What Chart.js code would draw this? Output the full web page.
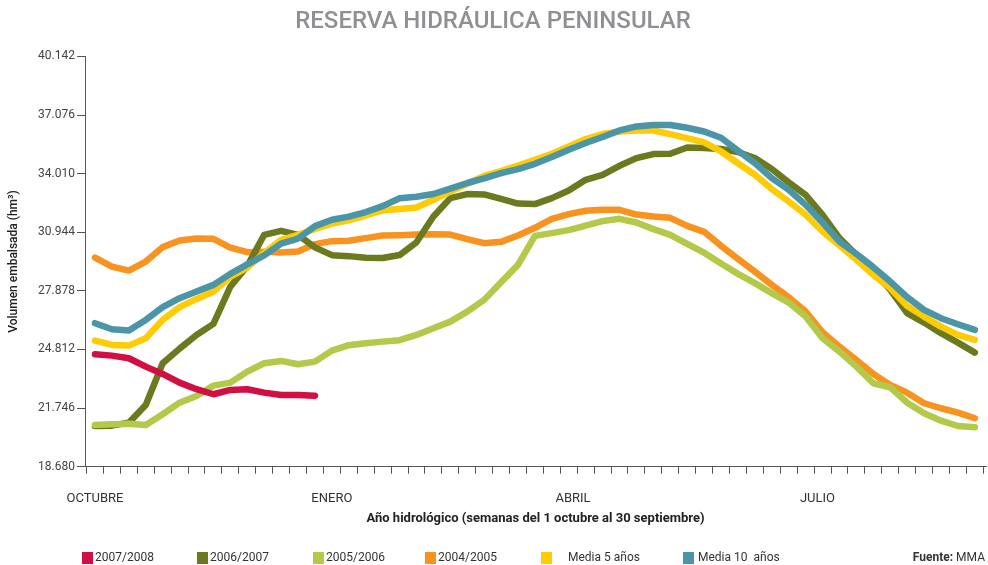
<!DOCTYPE html>
<html>
<head>
<meta charset="utf-8">
<script src="https://cdn.jsdelivr.net/npm/chart.js@4.4.1/dist/chart.umd.min.js"></script>
<style>
  html, body { margin: 0; padding: 0; background: #ffffff; }
  #wrap { position: relative; width: 988px; height: 565px; }
</style>
</head>
<body>
<div id="wrap"><canvas id="c"></canvas></div>
<script>
// ---------- DATA ----------
const weeks = [0,1,2,3,4,5,6,7,8,9,10,11,12,13,14,15,16,17,18,19,20,21,22,23,24,25,26,27,28,29,30,31,32,33,34,35,36,37,38,39,40,41,42,43,44,45,46,47,48,49,50,51,52];

const seriesNames = ['2007/2008', '2006/2007', '2005/2006', '2004/2005', 'Media 5 años', 'Media 10  años'];

const s2007_2008 = [24564, 24490, 24354, 23915, 23532, 23077, 22732, 22470, 22695, 22732, 22554, 22433, 22433, 22397];

const s2006_2007 = [20810, 20826, 20983, 21910, 24093, 24857, 25574, 26150, 28102, 29170, 30809, 31018, 30809, 30154, 29746, 29694, 29605, 29594, 29751, 30416, 31767, 32730, 32939, 32923, 32693, 32447, 32416, 32730, 33127, 33688, 33949, 34420, 34823, 35033, 35049, 35378, 35347, 35295, 35143, 34823, 34250, 33550, 32902, 31856, 30636, 29762, 28887, 27930, 26710, 26218, 25663, 25171, 24647];

const s2005_2006 = [20863, 20899, 20931, 20863, 21423, 22030, 22381, 22920, 23077, 23653, 24093, 24213, 24040, 24176, 24752, 25035, 25140, 25223, 25297, 25574, 25925, 26270, 26794, 27406, 28333, 29238, 30756, 30898, 31055, 31295, 31526, 31646, 31452, 31107, 30809, 30337, 29877, 29311, 28767, 28280, 27757, 27265, 26532, 25401, 24700, 23915, 23046, 22836, 22030, 21475, 21088, 20810, 20742];

const s2004_2005 = [29620, 29149, 28940, 29411, 30165, 30510, 30615, 30599, 30144, 29903, 29919, 29882, 29934, 30322, 30479, 30495, 30636, 30772, 30793, 30824, 30845, 30824, 30584, 30374, 30442, 30772, 31175, 31646, 31892, 32065, 32117, 32117, 31871, 31767, 31698, 31280, 30966, 30233, 29552, 28887, 28191, 27547, 26794, 25715, 24962, 24265, 23532, 22957, 22554, 21999, 21737, 21507, 21214];

const media5 = [25276, 25051, 25014, 25401, 26359, 27024, 27458, 27825, 28626, 29097, 29851, 30547, 30809, 31112, 31395, 31568, 31829, 32091, 32159, 32238, 32641, 33075, 33478, 33887, 34143, 34436, 34735, 35049, 35431, 35818, 36080, 36216, 36268, 36268, 36080, 35870, 35640, 35169, 34551, 33949, 33201, 32552, 31856, 30981, 30248, 29500, 28715, 28019, 27092, 26532, 26008, 25574, 25312];

const media10 = [26186, 25872, 25799, 26359, 27024, 27495, 27841, 28191, 28767, 29264, 29735, 30353, 30615, 31264, 31594, 31761, 32002, 32311, 32719, 32798, 32944, 33227, 33520, 33766, 34038, 34248, 34525, 34876, 35258, 35609, 35923, 36268, 36478, 36551, 36551, 36410, 36216, 35886, 35216, 34562, 33777, 33164, 32379, 31452, 30458, 29814, 29118, 28364, 27547, 26883, 26448, 26134, 25836];

const yTickValues = [18680, 21746, 24812, 27878, 30944, 34010, 37076, 40142];
const weekTickValues = [-0.5,0.5,1.5,2.5,3.5,4.5,5.5,6.5,7.5,8.5,9.5,10.5,11.5,12.5,13.5,14.5,15.5,16.5,17.5,18.5,19.5,20.5,21.5,22.5,23.5,24.5,25.5,26.5,27.5,28.5,29.5,30.5,31.5,32.5,33.5,34.5,35.5,36.5,37.5,38.5,39.5,40.5,41.5,42.5,43.5,44.5,45.5,46.5,47.5,48.5,49.5,50.5,51.5,52.5];
const monthLabels = ['OCTUBRE', 'ENERO', 'ABRIL', 'JULIO'];
const monthWeeks = [0, 14, 28.25, 42.7];

const chartTitle = 'RESERVA HIDRÁULICA PENINSULAR';
const yTitle = 'Volumen embalsada (hm³)';
const xTitle = 'Año hidrológico (semanas del 1 octubre al 30 septiembre)';
const sourceBold = 'Fuente:';
const sourceText = ' MMA';

// ---------- STYLE ----------
const colors = ['#d20f43', '#6b7a1f', '#b2c94a', '#f7931e', '#ffcb05', '#4a96a8'];
const drawOrder = [0, 4, 3, 5, 2, 1];
const FONT = 'Roboto';

function fmt(v) {
  return String(v).replace(/\B(?=(\d{3})+(?!\d))/g, '.');
}

const seriesData = [s2007_2008, s2006_2007, s2005_2006, s2004_2005, media5, media10];

const datasets = seriesData.map((arr, k) => ({
  label: seriesNames[k],
  data: arr,
  borderColor: colors[k],
  backgroundColor: colors[k],
  borderWidth: 6.5,
  pointRadius: 0,
  pointHoverRadius: 0,
  tension: 0,
  fill: false,
  borderCapStyle: 'round',
  borderJoinStyle: 'round',
  order: drawOrder[k]
}));

const legendPlugin = {
  id: 'customLegend',
  afterDraw(chart) {
    const ctx = chart.ctx;
    const boxX = [82, 197, 313, 425, 541, 683];
    const textGap = [13, 13, 13, 13, 27, 15];
    const yc = 558;
    ctx.save();
    ctx.textBaseline = 'middle';
    ctx.textAlign = 'left';
    ctx.font = '12px ' + FONT;
    chart.data.datasets.forEach((ds, k) => {
      ctx.fillStyle = ds.borderColor;
      ctx.fillRect(boxX[k], yc - 6, 11, 12);
      ctx.fillStyle = '#333333';
      ctx.fillText(ds.label, boxX[k] + textGap[k], yc);
    });
    ctx.font = '12px ' + FONT;
    const wNormal = ctx.measureText(sourceText).width;
    ctx.textAlign = 'right';
    ctx.fillStyle = '#333333';
    ctx.fillText(sourceText, 985, yc);
    ctx.font = 'bold 12px ' + FONT;
    ctx.fillText(sourceBold, 985 - wNormal, yc);
    ctx.restore();
  }
};

new Chart(document.getElementById('c'), {
  type: 'line',
  data: { labels: weeks, datasets: datasets },
  plugins: [legendPlugin],
  options: {
    responsive: true,
    maintainAspectRatio: false,
    animation: false,
    events: [],
    layout: { padding: { left: 0, right: 2, top: 0, bottom: 35 } },
    font: { family: FONT },
    plugins: {
      legend: { display: false },
      tooltip: { enabled: false },
      title: {
        display: true,
        text: chartTitle,
        color: '#8f9093',
        font: { family: FONT, size: 24, weight: '500', lineHeight: 1.2 },
        padding: { top: 8, bottom: 19.6 }
      }
    },
    scales: {
      x: {
        type: 'linear',
        position: 'bottom',
        min: -0.59,
        max: 52.66,
        weight: 0,
        afterBuildTicks: (s) => { s.ticks = weekTickValues.map(v => ({ value: v })); },
        ticks: { display: false, autoSkip: false },
        grid: { display: true, drawOnChartArea: false, drawTicks: true, tickLength: 7, color: '#555555', lineWidth: 1 },
        border: { display: true, color: '#555555', width: 1 }
      },
      x2: {
        type: 'linear',
        position: 'bottom',
        min: -0.59,
        max: 52.66,
        weight: 1,
        afterBuildTicks: (s) => { s.ticks = monthWeeks.map(v => ({ value: v })); },
        afterFit: (s) => { s.height = 56.3; },
        ticks: {
          autoSkip: false,
          maxRotation: 0,
          padding: 9,
          color: '#333333',
          font: { family: FONT, size: 13 },
          callback: (v, i) => monthLabels[i]
        },
        grid: { display: false },
        border: { display: false },
        title: {
          display: true,
          text: xTitle,
          color: '#222222',
          font: { family: FONT, size: 13, weight: 'bold', lineHeight: 1.2 },
          padding: { top: 0, bottom: 3 }
        }
      },
      y: {
        type: 'linear',
        min: 18680,
        max: 40142,
        afterBuildTicks: (s) => { s.ticks = yTickValues.map(v => ({ value: v })); },
        afterFit: (s) => { s.width = 85; },
        ticks: {
          autoSkip: false,
          padding: 2,
          color: '#444444',
          font: { family: FONT, size: 12 },
          callback: (v) => fmt(v)
        },
        grid: { display: true, drawOnChartArea: false, drawTicks: true, tickLength: 8, color: '#555555', lineWidth: 1 },
        border: { display: true, color: '#555555', width: 1 },
        title: {
          display: true,
          text: yTitle,
          color: '#222222',
          font: { family: FONT, size: 12, weight: '500', lineHeight: 1.2 },
          padding: { top: 7, bottom: 0 }
        }
      }
    }
  }
});
</script>
</body>
</html>
